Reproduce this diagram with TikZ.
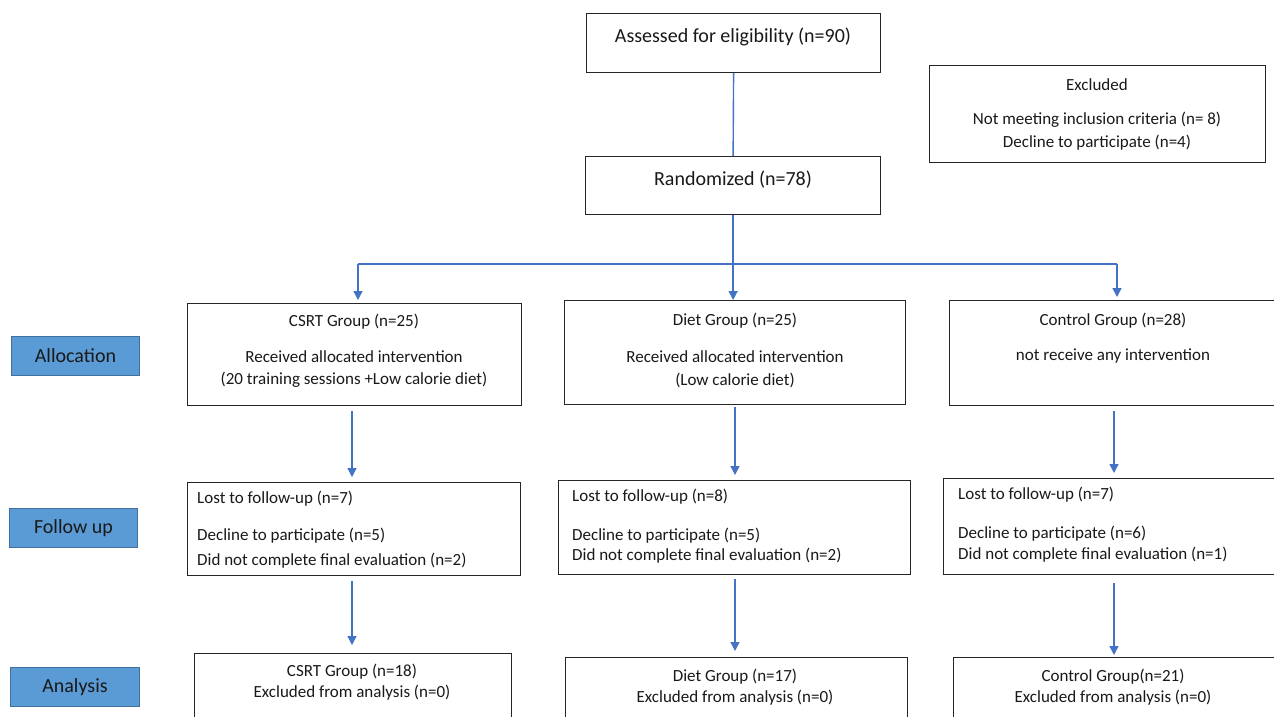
\documentclass[tikz,border=0pt]{standalone}
\usepackage{fontspec}
\setmainfont{Carlito}
\usetikzlibrary{arrows.meta,calc}
\definecolor{connc}{HTML}{4472C4}
\definecolor{labfill}{HTML}{5B9BD5}
\definecolor{labborder}{HTML}{41719C}
\begin{document}
\begin{tikzpicture}[x=1pt,y=-1pt,
  box/.style={draw=black!85,line width=1.2pt,fill=white,inner sep=0pt,anchor=north west},
  lab/.style={draw=labborder,fill=labfill,line width=1pt,inner sep=0pt,anchor=north west,
    minimum width=128pt,minimum height=39pt,font=\fontsize{20}{24}\selectfont,text=black!90},
  t/.style={inner sep=0pt,font=\fontsize{17}{20}\selectfont,text=black!90},
  tb/.style={inner sep=0pt,font=\fontsize{20}{24}\selectfont,text=black!90},
  link/.style={draw=connc,line width=1.4pt},
  arr/.style={link,-{Triangle[width=9pt,length=9pt]}}]
\clip (0,0) rectangle (1274,717);
\fill[white] (0,0) rectangle (1274,717);

% boxes
\node[box,minimum width=294pt,minimum height=59pt] (assess) at (586,13) {};
\node[box,minimum width=295pt,minimum height=58pt] (rand) at (585,156) {};
\node[box,minimum width=336pt,minimum height=97pt] (excl) at (929,65) {};
\node[box,minimum width=334pt,minimum height=102pt] (csrt1) at (187,303) {};
\node[box,minimum width=341pt,minimum height=104pt] (diet1) at (564,300) {};
\node[box,minimum width=340pt,minimum height=105pt] (ctrl1) at (949,300) {};
\node[box,minimum width=333pt,minimum height=93pt] (csrt2) at (187,482) {};
\node[box,minimum width=352pt,minimum height=94pt] (diet2) at (558,480) {};
\node[box,minimum width=340pt,minimum height=96pt] (ctrl2) at (943,478) {};
\node[box,minimum width=317pt,minimum height=80pt] (csrt3) at (194,653) {};
\node[box,minimum width=342pt,minimum height=80pt] (diet3) at (565,657) {};
\node[box,minimum width=340pt,minimum height=80pt] (ctrl3) at (953,657) {};

% side labels
\node[lab] (alloc) at (11,336) {Allocation};
\node[lab] (follow) at (9,508) {Follow up};
\node[lab,minimum width=129pt] (anal) at (10,667) {Analysis};

% texts
\node[tb] (tassess) at (733,37) {Assessed for eligibility (n=90)};
\node[tb] (trand) at (733,180) {Randomized (n=78)};
\node[t] (te1) at (1097,85) {Excluded};
\node[t] (te2) at (1097,120) {Not meeting inclusion criteria (n= 8)};
\node[t] (te3) at (1097,143) {Decline to participate (n=4)};

\node[t] (tc1) at (354,322) {CSRT Group (n=25)};
\node[t] (tc2) at (354,357) {Received allocated intervention};
\node[t] (tc3) at (354,380) {(20 training sessions +Low calorie diet)};
\node[t] (td1) at (735,321) {Diet Group (n=25)};
\node[t] (td2) at (735,357) {Received allocated intervention};
\node[t] (td3) at (735,380) {(Low calorie diet)};
\node[t] (tk1) at (1113,321) {Control Group (n=28)};
\node[t] (tk2) at (1113,356) {not receive any intervention};

\node[t,anchor=west] (fc1) at (197,499) {Lost to follow-up (n=7)};
\node[t,anchor=west] (fc2) at (197,536) {Decline to participate (n=5)};
\node[t,anchor=west] (fc3) at (197,561) {Did not complete final evaluation (n=2)};
\node[t,anchor=west] (fd1) at (572,497) {Lost to follow-up (n=8)};
\node[t,anchor=west] (fd2) at (572,536) {Decline to participate (n=5)};
\node[t,anchor=west] (fd3) at (572,556) {Did not complete final evaluation (n=2)};
\node[t,anchor=west] (fk1) at (958,495) {Lost to follow-up (n=7)};
\node[t,anchor=west] (fk2) at (958,534) {Decline to participate (n=6)};
\node[t,anchor=west] (fk3) at (958,555) {Did not complete final evaluation (n=1)};

\node[t] (ac1) at (352,672) {CSRT Group (n=18)};
\node[t] (ac2) at (352,693) {Excluded from analysis (n=0)};
\node[t] (ad1) at (735,677) {Diet Group (n=17)};
\node[t] (ad2) at (735,698) {Excluded from analysis (n=0)};
\node[t] (ak1) at (1113,677) {Control Group(n=21)};
\node[t] (ak2) at (1113,698) {Excluded from analysis (n=0)};

% connectors
\coordinate (brL) at (358,264);
\coordinate (brR) at (1117,264);
\coordinate (col1) at (352,0);
\coordinate (col2) at (735,0);
\coordinate (col3) at (1114,0);

\draw[link] (assess.south) -- (rand.north);
\draw[arr] (rand.south) -- (rand.south |- diet1.north);
\draw[link] (brL) -- (brR);
\draw[arr] (brL) -- ($(brL |- csrt1.north)+(0,-3)$);
\draw[arr] (brR) -- ($(brR |- ctrl1.north)+(0,-3)$);

\draw[arr] ($(csrt1.south -| col1)+(0,5)$) -- ($(csrt2.north -| col1)+(0,-5)$);
\draw[arr] ($(diet1.south -| col2)+(0,2)$) -- ($(diet2.north -| col2)+(0,-5)$);
\draw[arr] ($(ctrl1.south -| col3)+(0,5)$) -- ($(ctrl2.north -| col3)+(0,-5)$);

\draw[arr] ($(csrt2.south -| col1)+(0,5)$) -- ($(csrt3.north -| col1)+(0,-8)$);
\draw[arr] ($(diet2.south -| col2)+(0,4)$) -- ($(diet3.north -| col2)+(0,-6)$);
\draw[arr] ($(ctrl2.south -| col3)+(0,8)$) -- ($(ctrl3.north -| col3)+(0,-2)$);
\end{tikzpicture}
\end{document}
